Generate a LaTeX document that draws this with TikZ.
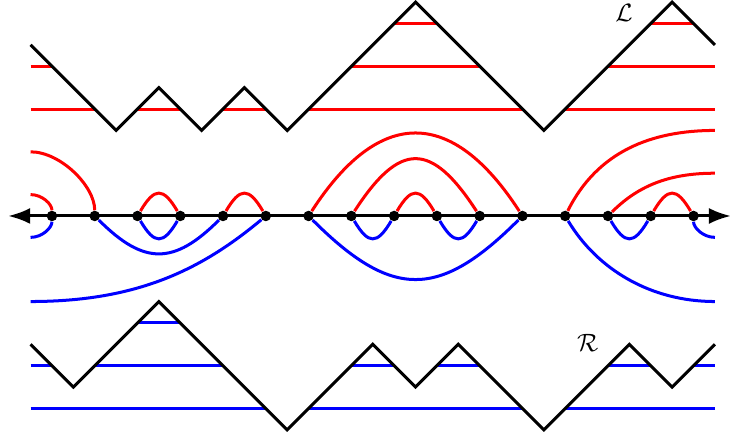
\documentclass[tikz,border=0pt]{standalone}
\usepackage{xcolor}
\usepackage{tikz}
\usetikzlibrary{arrows.meta}
\definecolor{arcred}{HTML}{FF0000}
\definecolor{arcblue}{HTML}{0000FF}

\begin{document}
\begin{tikzpicture}[
    x=0.3cm, y=0.3cm,
    zigzag/.style={draw=black, line width=1.2pt},
    chordred/.style={draw=arcred, line width=1.2pt},
    chordblue/.style={draw=arcblue, line width=1.2pt},
    redarc/.style={draw=arcred, line width=1.2pt},
    bluearc/.style={draw=arcblue, line width=1.2pt},
    dot/.style={circle, fill=black, inner sep=0pt, minimum size=4.2pt},
    axisline/.style={line width=1.2pt, {Latex[length=8.8pt, width=6.4pt]}-{Latex[length=8.8pt, width=6.4pt]}},
    tag/.style={inner sep=0pt}
]
\useasboundingbox (-1.43,-10.24) rectangle (32.8,10.1);

% Upper path L with its chords
\draw[chordred] (0,5) -- (3,5) (5,5) -- (7,5) (9,5) -- (11,5) (13,5) -- (23,5) (25,5) -- (32,5);
\draw[chordred] (0,7) -- (1,7) (15,7) -- (21,7) (27,7) -- (32,7);
\draw[chordred] (17,9) -- (19,9) (29,9) -- (31,9);
\draw[zigzag] (0,8) -- (4,4) -- (6,6) -- (8,4) -- (10,6) -- (12,4) -- (18,10) -- (24,4) -- (30,10) -- (32,8);
\node[tag] (lname) at (27.75,9.5) {$\mathcal{L}$};

% Lower path R with its chords
\draw[chordblue] (5,-5) -- (7,-5);
\draw[chordblue] (0,-7) -- (1,-7) (3,-7) -- (9,-7) (15,-7) -- (17,-7) (19,-7) -- (21,-7) (27,-7) -- (29,-7) (31,-7) -- (32,-7);
\draw[chordblue] (0,-9) -- (11,-9) (13,-9) -- (23,-9) (25,-9) -- (32,-9);
\draw[zigzag] (0,-6) -- (2,-8) -- (6,-4) -- (12,-10) -- (16,-6) -- (18,-8) -- (20,-6) -- (24,-10) -- (28,-6) -- (30,-8) -- (32,-6);
\node[tag] (rname) at (26.05,-5.95) {$\mathcal{R}$};

% Axis and points
\coordinate (axl) at (-1.05,0);
\coordinate (axr) at (32.75,0);
\draw[axisline] (axl) -- (axr);
\node[dot] (p1) at (1,0) {};
\node[dot] (p3) at (3,0) {};
\node[dot] (p5) at (5,0) {};
\node[dot] (p7) at (7,0) {};
\node[dot] (p9) at (9,0) {};
\node[dot] (p11) at (11,0) {};
\node[dot] (p13) at (13,0) {};
\node[dot] (p15) at (15,0) {};
\node[dot] (p17) at (17,0) {};
\node[dot] (p19) at (19,0) {};
\node[dot] (p21) at (21,0) {};
\node[dot] (p23) at (23,0) {};
\node[dot] (p25) at (25,0) {};
\node[dot] (p27) at (27,0) {};
\node[dot] (p29) at (29,0) {};
\node[dot] (p31) at (31,0) {};

% Free ends at the sides
\coordinate (la) at (0,1);
\coordinate (lb) at (0,3);
\coordinate (lc) at (0,-1);
\coordinate (ld) at (0,-4);
\coordinate (ra) at (32,4);
\coordinate (rb) at (32,2);
\coordinate (rc) at (32,-1);
\coordinate (rd) at (32,-4);

% Red arcs above the axis
\draw[redarc] (la) .. controls +(0.55,0) and +(0,0.55) .. (p1);
\draw[redarc] (lb) .. controls +(1.4,0) and +(0,1.4) .. (p3);
\draw[redarc] (p5) .. controls +(0.8,1.35) and +(-0.8,1.35) .. (p7);
\draw[redarc] (p9) .. controls +(0.8,1.35) and +(-0.8,1.35) .. (p11);
\draw[redarc] (p13) .. controls +(3.3,5.1) and +(-3.3,5.1) .. (p23);
\draw[redarc] (p15) .. controls +(2.27,3.5) and +(-2.27,3.5) .. (p21);
\draw[redarc] (p17) .. controls +(0.8,1.35) and +(-0.8,1.35) .. (p19);
\draw[redarc] (p25) .. controls +(1.5,3) and +(-3,0) .. (ra);
\draw[redarc] (p27) .. controls +(1.5,1.5) and +(-2,0) .. (rb);
\draw[redarc] (p29) .. controls +(0.8,1.35) and +(-0.8,1.35) .. (p31);

% Blue arcs below the axis
\draw[bluearc] (p1) .. controls +(0,-0.55) and +(0.55,0) .. (lc);
\draw[bluearc] (p3) .. controls +(2.3,-2.3) and +(-2.3,-2.3) .. (p9);
\draw[bluearc] (p5) .. controls +(0.8,-1.35) and +(-0.8,-1.35) .. (p7);
\draw[bluearc] (p11) .. controls +(-3,-2.5) and +(5,0) .. (ld);
\draw[bluearc] (p13) .. controls +(3.9,-3.9) and +(-3.9,-3.9) .. (p23);
\draw[bluearc] (p15) .. controls +(0.8,-1.35) and +(-0.8,-1.35) .. (p17);
\draw[bluearc] (p19) .. controls +(0.8,-1.35) and +(-0.8,-1.35) .. (p21);
\draw[bluearc] (p25) .. controls +(1.5,-2.5) and +(-3,0) .. (rd);
\draw[bluearc] (p27) .. controls +(0.8,-1.35) and +(-0.8,-1.35) .. (p29);
\draw[bluearc] (p31) .. controls +(0,-0.55) and +(-0.55,0) .. (rc);

\end{tikzpicture}
\end{document}
